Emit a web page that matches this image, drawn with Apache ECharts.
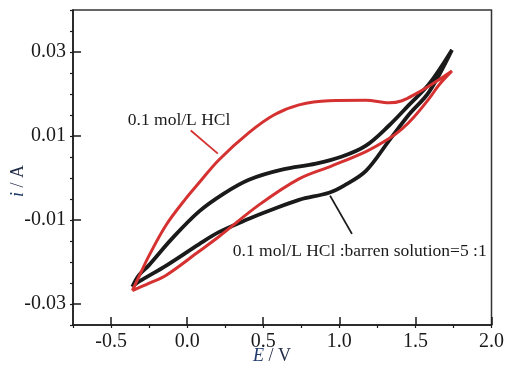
<!doctype html>
<html>
<head>
<meta charset="utf-8">
<title>CV curves</title>
<style>
  html, body { margin: 0; padding: 0; background: #fff; }
  #main { width: 507px; height: 369px; }
</style>
</head>
<body>
<div id="main"></div>
<script src="https://cdn.jsdelivr.net/npm/echarts@6/dist/echarts.min.js"></script>
<script>
// 0.1 mol/L HCl (red), going up then back down
var redE = [-0.36, -0.318, -0.252, -0.14, -0.009, 0.077, 0.208, 0.406, 0.57, 0.735, 0.932, 1.175, 1.327, 1.412, 1.505, 1.624, 1.74,
            1.656, 1.59, 1.492, 1.412, 1.327, 1.175, 0.951, 0.735, 0.472, 0.208, 0.077, -0.14, -0.252, -0.36];
var redI = [-0.0268, -0.0236, -0.0186, -0.0113, -0.0049, -0.0012, 0.0043, 0.0108, 0.015, 0.0174, 0.0184, 0.0185, 0.0179, 0.0184, 0.0201, 0.0227, 0.0255,
            0.0222, 0.0189, 0.0146, 0.0117, 0.0094, 0.0063, 0.0029, -0.0002, -0.0064, -0.014, -0.0175, -0.0232, -0.0251, -0.0268];

// 0.1 mol/L HCl : barren solution = 5:1 (black)
var blackE = [-0.36, -0.318, -0.252, -0.101, 0.077, 0.241, 0.406, 0.623, 0.847, 1.018, 1.175, 1.327, 1.458, 1.59, 1.74,
              1.59, 1.458, 1.327, 1.175, 1.031, 0.932, 0.735, 0.538, 0.406, 0.208, 0.077, -0.14, -0.318, -0.36];
var blackI = [-0.0259, -0.0232, -0.0208, -0.0145, -0.008, -0.0037, -0.0004, 0.002, 0.0034, 0.0051, 0.0077, 0.0125, 0.0174, 0.0224, 0.0305,
              0.0205, 0.0151, 0.0089, 0.0017, -0.0018, -0.0035, -0.0052, -0.0078, -0.0097, -0.0129, -0.0158, -0.0209, -0.0247, -0.0259];

var xTicks = [-0.5, 0, 0.5, 1, 1.5, 2];
var yTicks = [-0.03, -0.01, 0.01, 0.03];

function pairs(xs, ys) {
    var out = [];
    for (var i = 0; i < xs.length; i++) out.push([xs[i], ys[i]]);
    return out;
}

var FONT = '"Liberation Serif", "Times New Roman", serif';
var RED = '#d63131';
var INK = '#1a1a1a';

var myChart = echarts.init(document.getElementById('main'));

var option = {
    backgroundColor: '#fff',
    animation: false,
    grid: {
        left: 73, right: 13, top: 10, bottom: 44,
        show: true, borderColor: '#333', borderWidth: 1.5, backgroundColor: 'transparent'
    },
    xAxis: [{
        type: 'value', min: -0.75, max: 2, interval: 0.25,
        axisLine: { onZero: false, lineStyle: { color: INK, width: 1.5 } },
        axisTick: { inside: true, length: 8, customValues: xTicks, lineStyle: { color: INK, width: 1.5 } },
        axisLabel: {
            customValues: xTicks, margin: 7, color: INK, fontFamily: FONT, fontSize: 20,
            formatter: function (v) { return v.toFixed(1); }
        },
        splitLine: { show: false }
    }, {
        // minor ticks
        type: 'value', min: -0.75, max: 2, interval: 0.25, position: 'bottom',
        axisLine: { show: false, onZero: false },
        axisTick: { length: 3, lineStyle: { color: INK, width: 1.2 } },
        axisLabel: { show: false },
        splitLine: { show: false }
    }],
    yAxis: [{
        type: 'value', min: -0.035, max: 0.04, interval: 0.005,
        axisLine: { onZero: false, lineStyle: { color: INK, width: 1.5 } },
        axisTick: { inside: true, length: 8, customValues: yTicks, lineStyle: { color: INK, width: 1.5 } },
        axisLabel: {
            customValues: yTicks, margin: 7, color: INK, fontFamily: FONT, fontSize: 20,
            formatter: function (v) { return v.toFixed(2); }
        },
        splitLine: { show: false }
    }, {
        type: 'value', min: -0.035, max: 0.04, interval: 0.005, position: 'left',
        axisLine: { show: false, onZero: false },
        axisTick: { length: 3, lineStyle: { color: INK, width: 1.2 } },
        axisLabel: { show: false },
        splitLine: { show: false }
    }],
    series: [
        {
            name: 'mix', type: 'line', smooth: 0.35, showSymbol: false,
            data: pairs(blackE, blackI),
            lineStyle: { color: INK, width: 3.8 }
        },
        {
            name: 'HCl', type: 'line', smooth: 0.35, showSymbol: false,
            data: pairs(redE, redI),
            lineStyle: { color: RED, width: 3 }
        }
    ]
};

myChart.setOption(option);

// annotations, placed in data units
function px(p) { return myChart.convertToPixel({ xAxisIndex: 0, yAxisIndex: 0 }, p); }
var a1 = px([0.024, 0.0113]), b1 = px([0.202, 0.0058]);
var a2 = px([0.939, -0.0042]), b2 = px([1.083, -0.0133]);
var t1 = px([-0.39, 0.0137]), t2 = px([0.3, -0.0174]);

myChart.setOption({
    graphic: [
        { type: 'line', shape: { x1: a1[0], y1: a1[1], x2: b1[0], y2: b1[1] }, style: { stroke: RED, lineWidth: 1.8 } },
        { type: 'line', shape: { x1: a2[0], y1: a2[1], x2: b2[0], y2: b2[1] }, style: { stroke: INK, lineWidth: 1.8 } },
        { type: 'text', x: t1[0], y: t1[1], style: { text: '0.1 mol/L HCl', font: '17.5px ' + FONT, fill: INK, verticalAlign: 'middle' } },
        { type: 'text', x: t2[0], y: t2[1], style: { text: '0.1 mol/L HCl :barren solution=5 :1', font: '17.5px ' + FONT, fill: INK, verticalAlign: 'middle' } },
        {
            type: 'text', x: 272, y: 356,
            style: {
                text: '{it|E} / V', font: '18px ' + FONT, fill: '#1f2a44', align: 'center', verticalAlign: 'middle',
                rich: { it: { fontStyle: 'italic', fontFamily: FONT, fontSize: 18, fill: '#1f3a6a' } }
            }
        },
        {
            type: 'text', x: 18, y: 181, rotation: Math.PI / 2,
            style: {
                text: '{it|i} / A', font: '18px ' + FONT, fill: '#1f2a44', align: 'center', verticalAlign: 'middle',
                rich: { it: { fontStyle: 'italic', fontFamily: FONT, fontSize: 18, fill: '#1f3a6a' } }
            }
        }
    ]
});
</script>
</body>
</html>
